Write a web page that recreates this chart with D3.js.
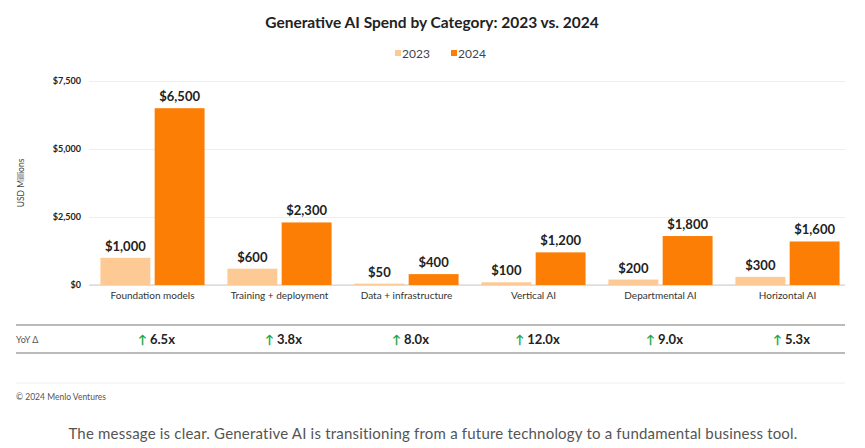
<!DOCTYPE html>
<html><head><meta charset="utf-8">
<script src="https://cdn.jsdelivr.net/npm/d3@7"></script>
<style>body{margin:0;background:#fff;font-family:Lato,"Open Sans",sans-serif}</style>
</head><body><svg id="c" width="865" height="448"></svg>
<script>
const categories=["Foundation models","Training + deployment","Data + infrastructure","Vertical AI","Departmental AI","Horizontal AI"];
const v2023=[1000,600,50,100,200,300];
const v2024=[6500,2300,400,1200,1800,1600];
const yoy=["6.5x","3.8x","8.0x","12.0x","9.0x","5.3x"];
const yTicks=[0,2500,5000,7500];
const series=["2023","2024"];
const colors={"2023":"#fdc994","2024":"#fd7e05"};

const svg=d3.select("#c");
const x=d3.scaleBand().domain(categories).range([89,851]).paddingInner(0.18).paddingOuter(0.09);
const xs=d3.scaleBand().domain(series).range([0,x.bandwidth()]).paddingInner(0.08);
const y=d3.scaleLinear().domain([0,7500]).range([285,81]);
const fmt=d3.format("$,");
const txt="#222";

svg.append("text").attr("x",432).attr("y",28).attr("text-anchor","middle")
  .attr("font-size",15.5).attr("font-weight",700).attr("fill",txt)
  .text("Generative AI Spend by Category: 2023 vs. 2024");

const lg=svg.append("g");
series.forEach((s,i)=>{
  const lx=395+i*56;
  lg.append("rect").attr("x",lx).attr("y",50).attr("width",6).attr("height",6).attr("fill",colors[s]);
  lg.append("text").attr("x",lx+7).attr("y",58).attr("font-size",12).attr("fill","#444").text(s);
});

const ya=svg.append("g").attr("transform","translate(89,0)")
  .call(d3.axisLeft(y).tickValues(yTicks).tickFormat(fmt).tickSize(-756).tickPadding(8));
ya.select(".domain").remove();
ya.selectAll(".tick line").attr("stroke","#eee");
ya.selectAll(".tick text").attr("font-size",9).attr("font-weight",700).attr("fill",txt).attr("font-family","Lato,sans-serif");
svg.append("line").attr("x1",89).attr("x2",845).attr("y1",y(0)).attr("y2",y(0)).attr("stroke","#ccc");

svg.append("text").attr("transform","translate(24,183) rotate(-90)").attr("text-anchor","middle")
  .attr("font-size",8.5).attr("fill","#444").text("USD Millions");

const xa=svg.append("g").attr("transform",`translate(0,${y(0)})`)
  .call(d3.axisBottom(x).tickSize(0).tickPadding(7));
xa.select(".domain").remove();
xa.selectAll(".tick text").attr("font-size",10).attr("fill","#333").attr("font-family","Lato,sans-serif");

const data=categories.map((c,i)=>({c,vals:[{s:"2023",v:v2023[i]},{s:"2024",v:v2024[i]}]}));
const g=svg.selectAll(".grp").data(data).enter().append("g").attr("transform",d=>`translate(${x(d.c)},0)`);
g.selectAll("rect").data(d=>d.vals).enter().append("rect")
  .attr("x",d=>xs(d.s)).attr("width",xs.bandwidth())
  .attr("y",d=>y(d.v)).attr("height",d=>y(0)-y(d.v)).attr("fill",d=>colors[d.s]);
g.selectAll(".lbl").data(d=>d.vals).enter().append("text")
  .attr("x",d=>xs(d.s)+xs.bandwidth()/2).attr("y",d=>y(d.v)-7).attr("text-anchor","middle")
  .attr("font-size",13).attr("font-weight",700).attr("fill",txt).text(d=>fmt(d.v));

svg.append("line").attr("x1",16).attr("x2",845).attr("y1",325).attr("y2",325).attr("stroke","#777").attr("stroke-width",1.2);
svg.append("line").attr("x1",16).attr("x2",845).attr("y1",353).attr("y2",353).attr("stroke","#777").attr("stroke-width",1.2);
svg.append("text").attr("x",16).attr("y",343).attr("font-size",9).attr("fill","#555").text("YoY Δ");
categories.forEach((c,i)=>{
  const cx=x(c)+x.bandwidth()/2;
  const t=svg.append("text").attr("x",cx+4).attr("y",344).attr("text-anchor","middle").attr("font-size",13).attr("font-weight",700).attr("fill",txt);
  t.append("tspan").attr("fill","#1aa64a").attr("font-size",12).text("↑ ");
  t.append("tspan").text(yoy[i]);
});

svg.append("line").attr("x1",16).attr("x2",845).attr("y1",383).attr("y2",383).attr("stroke","#f0f0f0");
svg.append("text").attr("x",16).attr("y",400).attr("font-size",8.5).attr("fill","#555").text("© 2024 Menlo Ventures");
svg.append("text").attr("x",433).attr("y",439).attr("text-anchor","middle").attr("font-size",15).attr("letter-spacing",0.2).attr("fill","#555")
  .text("The message is clear. Generative AI is transitioning from a future technology to a fundamental business tool.");
</script></body></html>
